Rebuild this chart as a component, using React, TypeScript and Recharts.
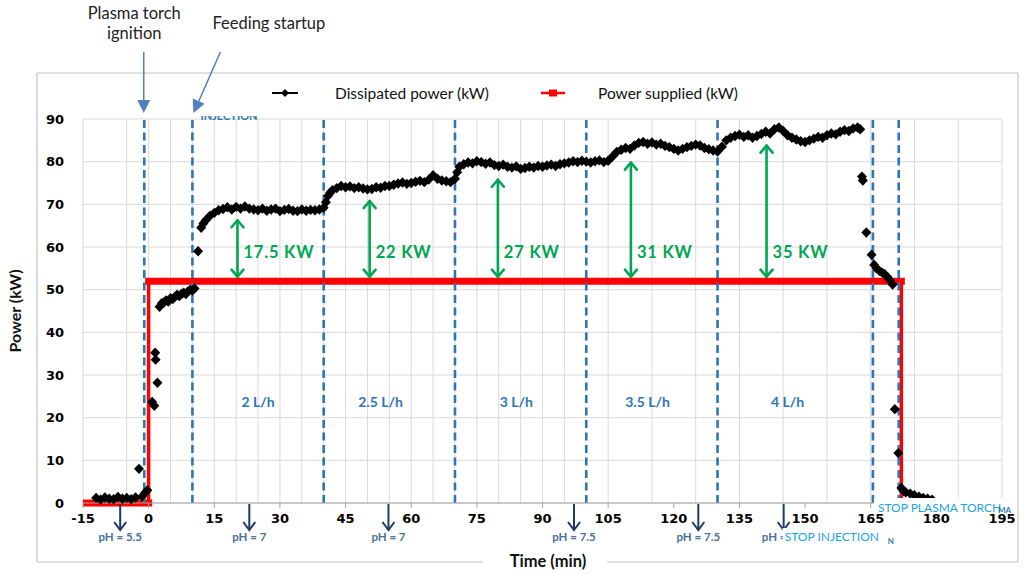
import React from "react"
import {
  ComposedChart,
  Line,
  XAxis,
  YAxis,
  CartesianGrid,
  ReferenceLine,
  ReferenceDot,
} from "recharts"

// Dissipated power (kW), by time (min)
const dissipatedMinutes = [
  -12, -11, -10, -9, -8, -7, -6, -5, -4, -3, -2.2, -1.5, -0.8, -0.3,
  0.8, 1.3, 1.5, 1.6, 2.0, 2.5, 3, 3.5, 4, 4.5, 5, 5.5, 6, 6.5, 7, 7.5, 8, 8.5, 9, 9.5, 10, 10.5,
  11.3, 12, 12.5, 13, 14, 15, 16, 17, 18, 19, 20, 21, 22, 23, 24, 25, 26, 27, 28, 29, 30,
  31, 32, 33, 34, 35, 36, 37, 38, 39, 40,
  40.5, 41, 41.5, 42, 43, 44, 45, 46, 47, 48, 49, 50, 51, 52, 53, 54, 55, 56, 57, 58, 59, 60,
  61, 62, 63, 64, 65, 66, 67, 68, 69, 70,
  70.5, 71, 72, 73, 74, 75, 76, 77, 78, 79, 80, 81, 82, 83, 84, 85, 86, 87, 88, 89, 90,
  91, 92, 93, 94, 95, 96, 97, 98, 99, 100,
  101, 102, 103, 104, 105, 106, 107, 108, 109, 110, 111, 112, 113, 114, 115, 116, 117, 118, 119, 120,
  121, 122, 123, 124, 125, 126, 127, 128, 129, 130,
  131, 132, 133, 134, 135, 136, 137, 138, 139, 140, 141, 142, 143, 144, 145, 146, 147, 148, 149, 150,
  151, 152, 153, 154, 155, 156, 157, 158, 159, 160, 161, 162, 162.6,
  163.0, 163.2, 164.0, 165.2, 165.8, 166.3, 167, 167.6, 168.2, 168.8, 169.4, 170,
  170.5, 171.3, 172, 172.5, 173, 174, 175, 176, 177, 178, 179,
]
const dissipatedPower = [
  1.2, 0.8, 1.3, 1.0, 0.9, 1.4, 1.0, 1.2, 0.9, 1.3, 8.0, 1.5, 2.4, 3.0,
  23.7, 22.8, 35.2, 33.6, 28.2, 46.0, 46.8, 47.0, 47.5, 47.2, 48.0, 47.8, 48.3, 48.8, 48.5, 49.0, 49.3, 49.0, 49.6, 50.0, 49.8, 50.3,
  59.0, 64.5, 65.5, 66.2, 67.3, 68.0, 68.6, 68.9, 69.3, 68.8, 69.4, 69.0, 69.5, 69.0, 68.8, 68.6, 69.0, 68.5, 68.8, 69.0, 68.4,
  68.7, 68.9, 68.5, 68.4, 68.8, 68.5, 68.7, 68.6, 68.8, 69.2,
  70.5, 72.0, 72.8, 73.3, 73.8, 74.3, 74.0, 74.2, 73.8, 74.0, 73.7, 73.5, 73.6, 74.0, 73.9, 74.3, 74.3, 74.6, 74.9, 75.1, 74.8, 75.0,
  75.3, 75.5, 75.2, 75.8, 76.8, 76.0, 75.6, 75.4, 75.2, 76.0,
  77.5, 78.8, 79.4, 79.8, 79.6, 80.1, 79.9, 79.5, 79.8, 79.2, 79.0, 79.3, 78.8, 78.6, 78.9, 78.3, 78.5, 78.8, 78.6, 79.0, 78.8,
  79.1, 79.3, 79.0, 79.4, 79.6, 79.8, 80.1, 79.9, 80.2, 80.0,
  79.8, 80.1, 80.3, 79.9, 80.2, 81.2, 82.3, 82.8, 83.2, 83.0, 83.8, 84.4, 84.6, 84.2, 84.5, 84.0, 84.2, 83.7, 83.4, 83.0,
  82.6, 83.0, 83.4, 83.7, 84.0, 83.8, 83.2, 82.9, 82.6, 82.4,
  83.5, 85.0, 85.6, 86.0, 86.3, 85.8, 86.2, 85.6, 86.0, 86.5, 87.0, 86.6, 87.6, 88.0, 87.2, 86.2, 85.6, 85.2, 84.8, 84.6,
  85.0, 85.4, 85.8, 85.6, 86.2, 86.6, 86.4, 87.0, 87.4, 87.2, 87.8, 88.0, 87.6,
  76.5, 75.6, 63.4, 58.2, 55.8, 55.0, 54.4, 54.0, 53.6, 53.0, 52.2, 51.2,
  22.0, 11.7, 3.5, 2.8, 2.5, 2.2, 1.8, 1.5, 1.2, 1.0, 0.8,
]

// Power supplied (kW): step profile
const suppliedMinutes = [-15, 0, 0, 172, 172]
const suppliedPower = [0, 0, 52, 52, 0]

// Dashed phase boundaries (min)
const phaseMinutes = [-1, 10, 40, 70, 100, 130, 165.5, 171.4]

// Feed rates per phase
const flowMinutes = [25, 53, 84, 114, 146]
const flowLabels = ["2 L/h", "2.5 L/h", "3 L/h", "3.5 L/h", "4 L/h"]

// Gap between dissipated and supplied power
const gapMinutes = [20.3, 50.5, 79.8, 110.2, 141.2]
const gapKw = [17.5, 22, 27, 31, 35]

// pH markers under the time axis
const phMinutes = [-6.5, 23, 54.8, 97.2, 125.6, 145.1]
const phLabels = ["pH = 5.5", "pH = 7", "pH = 7", "pH = 7.5", "pH = 7.5", "pH = 7.5"]

const xTicks = [-15, 0, 15, 30, 45, 60, 75, 90, 105, 120, 135, 150, 165, 180, 195]
const yTicks = [0, 10, 20, 30, 40, 50, 60, 70, 80, 90]

const dissipatedData = dissipatedMinutes.map((t, i) => ({ t, p: dissipatedPower[i] }))
const suppliedData = suppliedMinutes.map((t, i) => ({ t, p: suppliedPower[i] }))
// horizontal parts only (break at vertical jumps) for the thick marker band
const plateauData = suppliedMinutes.flatMap((t, i) => {
  const pt = { t, p: suppliedPower[i] as number | null }
  if (i > 0 && suppliedMinutes[i - 1] === t) return [{ t, p: null }, pt]
  return [pt]
})
const gridMinutes: number[] = []
for (let m = -15; m <= 195; m += 5) gridMinutes.push(m)

const blackColor = "#000000"
const redColor = "#ff0000"
const dashBlue = "#2e75b6"
const noteBlue = "#4f81bd"
const green = "#00a651"
const navy = "#1f3864"
const phColor = "#48709c"
const stopBlue = "#1aa3e8"
const calibri = "Lato, 'Open Sans', sans-serif"
const tickFont = "'DejaVu Sans', Verdana, sans-serif"

const head = (x1: number, y1: number, x2: number, y2: number, len: number, half: number) => {
  const dx = x2 - x1
  const dy = y2 - y1
  const d = Math.sqrt(dx * dx + dy * dy)
  const ux = dx / d
  const uy = dy / d
  const bx = x2 - ux * len
  const by = y2 - uy * len
  return `M${x2},${y2}L${bx - uy * half},${by + ux * half}L${bx + uy * half},${by - ux * half}Z`
}

const Diamond = (props: any) => {
  const { cx, cy, index } = props
  if (cx == null || cy == null) return <g key={index} />
  return (
    <path
      key={index}
      d={`M${cx},${cy - 5.2}L${cx + 5},${cy}L${cx},${cy + 5.2}L${cx - 5},${cy}Z`}
      fill={blackColor}
    />
  )
}

const GreenArrow = (props: any) => {
  const { x1, y1, x2, y2 } = props
  const top = Math.min(y1, y2)
  const bottom = Math.max(y1, y2)
  return (
    <g stroke={green} strokeWidth={2.6} fill="none" strokeLinecap="round" strokeLinejoin="round">
      <line x1={x1} y1={top + 1} x2={x1} y2={bottom - 1} />
      <polyline points={`${x1 - 6},${top + 8} ${x1},${top + 1} ${x1 + 6},${top + 8}`} />
      <polyline points={`${x1 - 6},${bottom - 8} ${x1},${bottom - 1} ${x1 + 6},${bottom - 8}`} />
    </g>
  )
}

export default function App() {
  return (
    <div style={{ position: "absolute", left: 0, top: 0, width: 1025, height: 574, background: "#fff" }}>
      {/* frame, legend and axis titles */}
      <svg width={1025} height={574} style={{ position: "absolute", left: 0, top: 0 }}>
        <g stroke="#c4c4c4" strokeWidth={1.2}>
          <line x1={37} y1={73} x2={1018} y2={73} />
          <line x1={37} y1={73} x2={37} y2={562} />
          <line x1={1018} y1={73} x2={1018} y2={562} />
          <line x1={37} y1={562} x2={483} y2={562} />
          <line x1={607} y1={562} x2={1018} y2={562} />
        </g>
        <line x1={272} y1={93} x2={298} y2={93} stroke={blackColor} strokeWidth={2} />
        <path d="M285,89L289,93L285,97L281,93Z" fill={blackColor} />
        <text x={335} y={99} fontFamily={calibri} fontSize={15.5} fill="#111">
          Dissipated power (kW)
        </text>
        <line x1={541} y1={93} x2={565} y2={93} stroke={redColor} strokeWidth={2.5} />
        <rect x={549} y={89.5} width={8} height={7} fill={redColor} />
        <text x={598} y={99} fontFamily={calibri} fontSize={15.5} fill="#111">
          Power supplied (kW)
        </text>
        <text
          x={0}
          y={0}
          transform="translate(21,311) rotate(-90)"
          textAnchor="middle"
          fontFamily={calibri}
          fontWeight={700}
          fontSize={16}
          fill="#111"
        >
          Power (kW)
        </text>
        <text x={548} y={567} textAnchor="middle" fontFamily={calibri} fontWeight={700} fontSize={16.5} fill="#111">
          Time (min)
        </text>
      </svg>

      <div style={{ position: "absolute", left: 0, top: 0 }}>
        <ComposedChart width={1025} height={574} margin={{ top: 119, right: 23, bottom: 41, left: 43 }}>
          <CartesianGrid stroke="#d9d9d9" strokeWidth={1} verticalValues={gridMinutes} horizontalValues={yTicks} />
          <XAxis
            type="number"
            dataKey="t"
            domain={[-15, 195]}
            ticks={xTicks}
            allowDataOverflow
            height={30}
            axisLine={{ stroke: "#a6a6a6" }}
            tickLine={{ stroke: "#a6a6a6" }}
            tickSize={5}
            tickMargin={6}
            tick={{ fontFamily: tickFont, fontWeight: 700, fontSize: 13, fill: "#000" }}
          />
          <YAxis
            type="number"
            domain={[0, 90]}
            ticks={yTicks}
            width={40}
            axisLine={false}
            tickLine={false}
            tickSize={6}
            tickMargin={13}
            tick={{ fontFamily: tickFont, fontWeight: 700, fontSize: 13, fill: "#000" }}
          />

          <Line
            data={dissipatedData}
            dataKey="p"
            type="linear"
            stroke="none"
            dot={Diamond}
            activeDot={false}
            isAnimationActive={false}
          />
          <Line
            data={suppliedData}
            dataKey="p"
            type="linear"
            stroke={redColor}
            strokeWidth={3.5}
            dot={false}
            activeDot={false}
            isAnimationActive={false}
          />
          <Line
            data={plateauData}
            dataKey="p"
            type="linear"
            stroke={redColor}
            strokeWidth={7}
            strokeLinecap="square"
            connectNulls={false}
            dot={false}
            activeDot={false}
            isAnimationActive={false}
          />

          {phaseMinutes.map((t) => (
            <ReferenceLine key={`ph${t}`} x={t} stroke={dashBlue} strokeWidth={2.6} strokeDasharray="8 4.5" />
          ))}

          {gapMinutes.map((t, i) => (
            <ReferenceLine
              key={`gap${t}`}
              segment={[
                { x: t, y: suppliedPower[2] + 0.8 },
                { x: t, y: suppliedPower[2] + gapKw[i] - 3 },
              ]}
              shape={GreenArrow}
            />
          ))}
          {gapMinutes.map((t, i) => (
            <ReferenceDot
              key={`gl${t}`}
              x={t}
              y={58.6}
              ifOverflow="visible"
              shape={(p: any) => (
                <text
                  x={p.cx + 6}
                  y={p.cy + 5.5}
                  fontFamily={calibri}
                  fontWeight={700}
                  fontSize={16.5}
                  letterSpacing={0.8}
                  fill={green}
                >
                  {`${gapKw[i]} KW`}
                </text>
              )}
            />
          ))}

          {flowMinutes.map((t, i) => (
            <ReferenceDot
              key={`fl${t}`}
              x={t}
              y={23.5}
              ifOverflow="visible"
              shape={(p: any) => (
                <text
                  x={p.cx}
                  y={p.cy + 4.5}
                  textAnchor="middle"
                  fontFamily={calibri}
                  fontWeight={700}
                  fontSize={14}
                  fill={dashBlue}
                >
                  {flowLabels[i]}
                </text>
              )}
            />
          ))}

          {phMinutes.map((t, i) => (
            <ReferenceDot
              key={`pH${t}`}
              x={t}
              y={0}
              ifOverflow="visible"
              shape={(p: any) => (
                <g>
                  <g stroke={navy} strokeWidth={2} fill="none">
                    <line x1={p.cx} y1={p.cy + 1} x2={p.cx} y2={p.cy + 27} />
                    <polyline points={`${p.cx - 6},${p.cy + 19} ${p.cx},${p.cy + 27} ${p.cx + 6},${p.cy + 19}`} />
                  </g>
                  <text
                    x={p.cx}
                    y={p.cy + 38}
                    textAnchor="middle"
                    fontFamily={calibri}
                    fontWeight={700}
                    fontSize={11.5}
                    fill={phColor}
                  >
                    {phLabels[i]}
                  </text>
                </g>
              )}
            />
          ))}

          {/* stop notes */}
          <ReferenceDot
            x={phaseMinutes[6]}
            y={0}
            ifOverflow="visible"
            shape={(p: any) => (
              <g>
                <rect x={p.cx + 1} y={p.cy - 5} width={140} height={16} fill="#fff" />
                <text x={p.cx + 5} y={p.cy + 8.5} fontFamily={calibri} fontSize={12} fill={stopBlue}>
                  STOP PLASMA TORCH
                </text>
                <text x={p.cx + 125} y={p.cy + 9.5} fontFamily={calibri} fontWeight={700} fontSize={8} fill={dashBlue}>
                  MA
                </text>
              </g>
            )}
          />
          <ReferenceDot
            x={phMinutes[5]}
            y={0}
            ifOverflow="visible"
            shape={(p: any) => (
              <g>
                <rect x={p.cx - 1} y={p.cy + 25} width={93} height={19} fill="#fff" />
                <text x={p.cx + 1} y={p.cy + 38} fontFamily={calibri} fontSize={12} fill={stopBlue}>
                  STOP INJECTION
                </text>
                <text x={p.cx + 104} y={p.cy + 41} fontFamily={calibri} fontWeight={700} fontSize={8} fill={dashBlue}>
                  N
                </text>
              </g>
            )}
          />

          {/* clipped injection note under the top border */}
          <ReferenceDot
            x={phaseMinutes[1]}
            y={90}
            ifOverflow="visible"
            shape={(p: any) => (
              <g>
                <defs>
                  <clipPath id="injClip">
                    <rect x={p.cx} y={p.cy - 3} width={80} height={10} />
                  </clipPath>
                </defs>
                <g clipPath="url(#injClip)">
                  <text
                    x={p.cx + 8}
                    y={p.cy + 1}
                    fontFamily={calibri}
                    fontWeight={700}
                    fontSize={11}
                    fill={dashBlue}
                  >
                    INJECTION
                  </text>
                </g>
              </g>
            )}
          />

          {/* top call-outs */}
          <ReferenceDot
            x={phaseMinutes[0]}
            y={90}
            ifOverflow="visible"
            shape={(p: any) => (
              <g>
                <text x={p.cx - 10} y={p.cy - 100} textAnchor="middle" fontFamily={calibri} fontSize={16.5} fill="#222">
                  Plasma torch
                </text>
                <text x={p.cx - 10} y={p.cy - 80} textAnchor="middle" fontFamily={calibri} fontSize={16.5} fill="#222">
                  ignition
                </text>
                <line x1={p.cx - 0.5} y1={p.cy - 67} x2={p.cx - 0.5} y2={p.cy - 16} stroke={noteBlue} strokeWidth={1.5} />
                <path d={head(p.cx - 0.5, p.cy - 67, p.cx - 0.5, p.cy - 6, 13, 6.5)} fill={noteBlue} />
              </g>
            )}
          />
          <ReferenceDot
            x={phaseMinutes[1]}
            y={90}
            ifOverflow="visible"
            shape={(p: any) => (
              <g>
                <text x={p.cx + 20} y={p.cy - 90} fontFamily={calibri} fontSize={16.5} fill="#222">
                  Feeding startup
                </text>
                <line x1={p.cx + 28} y1={p.cy - 67} x2={p.cx + 6} y2={p.cy - 17} stroke={noteBlue} strokeWidth={1.5} />
                <path d={head(p.cx + 28, p.cy - 67, p.cx + 1, p.cy - 6, 13, 6.5)} fill={noteBlue} />
              </g>
            )}
          />
        </ComposedChart>
      </div>
    </div>
  )
}
